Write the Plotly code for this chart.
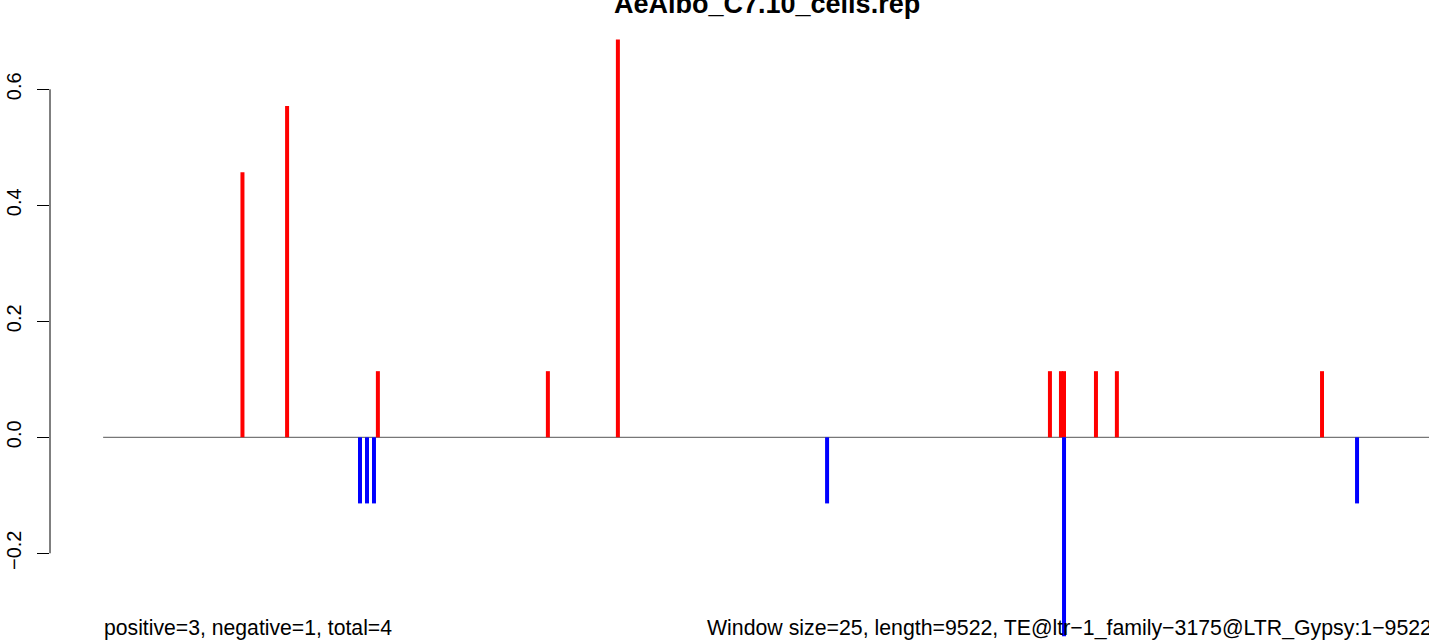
import plotly.graph_objects as go

TITLE = "AeAlbo_C7.10_cells.rep"
LENGTH = 9522
WINDOW = 25

pos_x = [1000, 1320, 1971, 3190, 3692, 6790, 6869, 6891, 7120, 7270, 8741]
pos_y = [0.457, 0.571, 0.114, 0.114, 0.686, 0.114, 0.114, 0.114, 0.114, 0.114, 0.114]
neg_x = [1843, 1893, 1943, 5192, 6891, 8992]
neg_y = [-0.114, -0.114, -0.114, -0.114, -0.343, -0.114]

y_ticks = [-0.2, 0.0, 0.2, 0.4, 0.6]
y_tick_labels = ["\u22120.2", "0.0", "0.2", "0.4", "0.6"]

left_note = "positive=3, negative=1, total=4"
right_note = ("Window size=25, length=9522, "
              "TE@ltr\u22121_family\u22123175@LTR_Gypsy:1\u22129522")


def segments(xs, ys):
    sx, sy = [], []
    for x, y in zip(xs, ys):
        sx += [x, x, None]
        sy += [0, y, None]
    return sx, sy


FONT = "Liberation Sans, Arial, sans-serif"
W, H = 1429, 641
L, R, T, B = 50, 0, 15, 0
plot_w = W - L - R
plot_h = H - T - B

fig = go.Figure()
fig.add_trace(go.Scatter(x=[1, LENGTH], y=[0, 0], mode="lines",
                         line=dict(color="#555555", width=1),
                         hoverinfo="skip", showlegend=False))
px_, py_ = segments(pos_x, pos_y)
fig.add_trace(go.Scatter(x=px_, y=py_, mode="lines",
                         line=dict(color="#ff0000", width=4),
                         showlegend=False))
nx_, ny_ = segments(neg_x, neg_y)
fig.add_trace(go.Scatter(x=nx_, y=ny_, mode="lines",
                         line=dict(color="#0000ff", width=4),
                         showlegend=False))

# y axis line from first to last tick (R style)
fig.add_shape(type="line", xref="paper", x0=0, x1=0, yref="y",
              y0=y_ticks[0], y1=y_ticks[-1],
              line=dict(color="black", width=1))


def px_to_paper_x(px):
    return (px - L) / plot_w


def px_to_paper_y(py):
    return (H - B - py) / plot_h


fig.add_annotation(text="<b>" + TITLE + "</b>", xref="paper", yref="paper",
                   x=px_to_paper_x(767), y=px_to_paper_y(4),
                   xanchor="center", yanchor="middle", showarrow=False,
                   font=dict(family=FONT, size=27, color="black"))
fig.add_annotation(text=left_note, xref="paper", yref="paper",
                   x=px_to_paper_x(102), y=px_to_paper_y(628),
                   xanchor="left", yanchor="middle", showarrow=False,
                   font=dict(family=FONT, size=21.2, color="black"))
fig.add_annotation(text=right_note, xref="paper", yref="paper",
                   x=px_to_paper_x(705), y=px_to_paper_y(628),
                   xanchor="left", yanchor="middle", showarrow=False,
                   font=dict(family=FONT, size=21.3, color="black"))

fig.update_layout(
    width=W, height=H,
    margin=dict(l=L, r=R, t=T, b=B, pad=0, autoexpand=False),
    plot_bgcolor="white", paper_bgcolor="white",
    xaxis=dict(range=[-380, 9508], visible=False, showgrid=False,
               zeroline=False, fixedrange=True, automargin=False),
    yaxis=dict(range=[-0.3512, 0.7281], showgrid=False, zeroline=False,
               showline=False, tickmode="array", tickvals=y_ticks,
               ticktext=y_tick_labels, ticks="outside", ticklen=12,
               tickwidth=1, tickcolor="black", tickangle=-90,
               ticklabelstandoff=8, automargin=False,
               tickfont=dict(family=FONT, size=20, color="black")),
    showlegend=False,
)

fig.write_html(
    "out.html",
    config={"displayModeBar": False},
    post_script="document.body.style.margin='0';"
                "document.body.style.overflow='hidden';",
)
